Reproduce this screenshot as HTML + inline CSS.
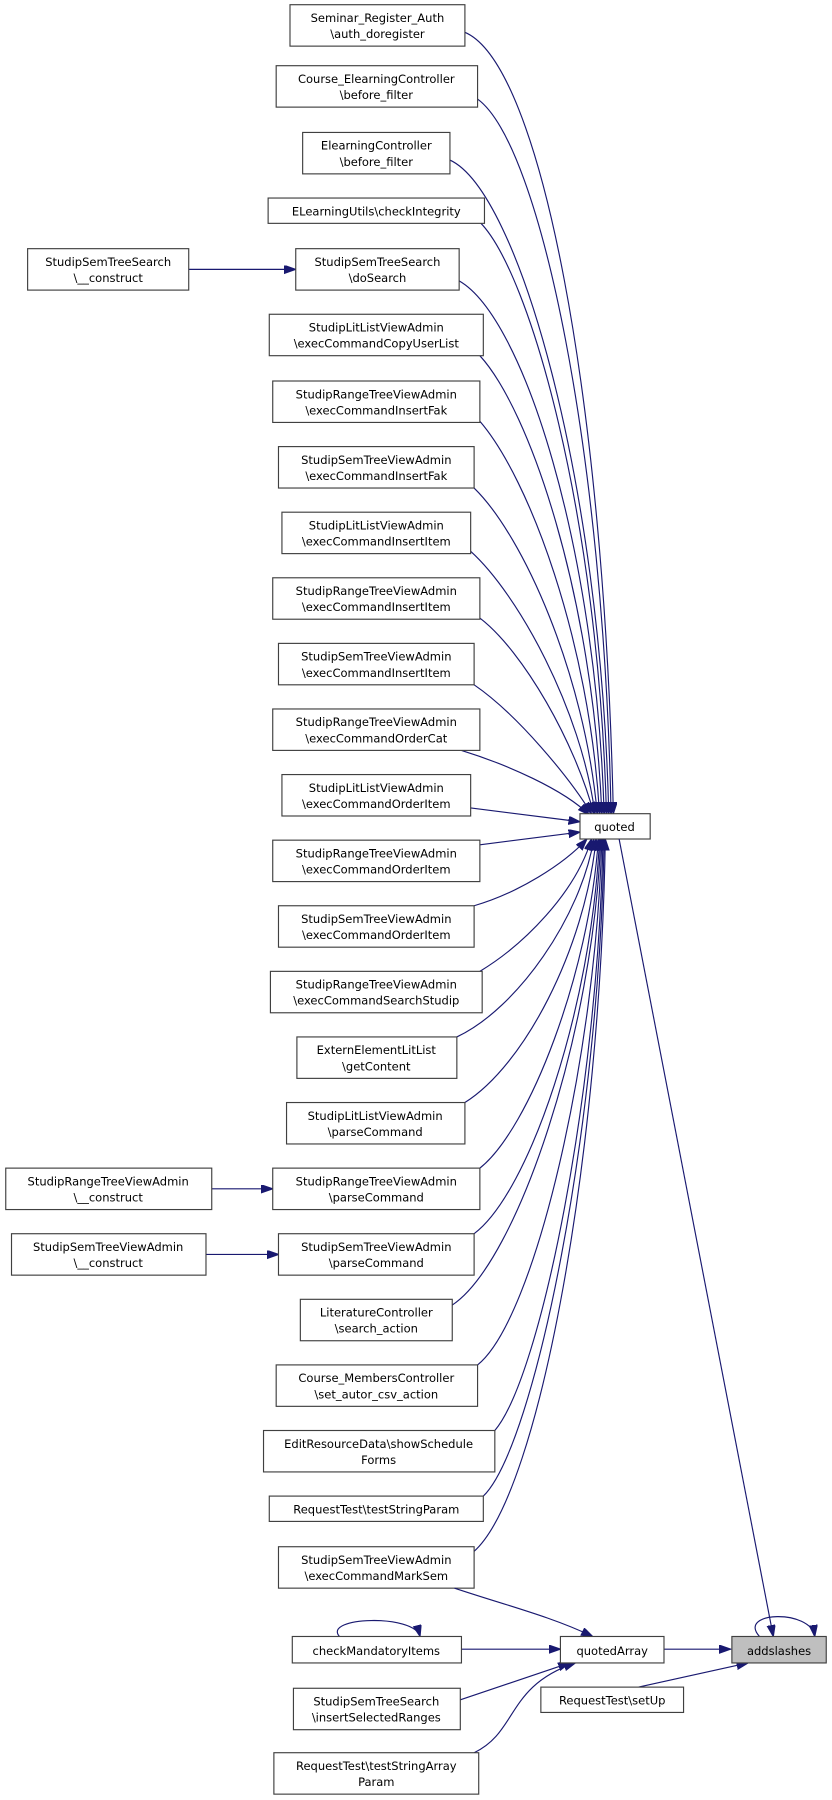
<!DOCTYPE html>
<html><head><meta charset="utf-8"><style>
html,body{margin:0;padding:0;background:#fff;}
svg{display:block;}
text{font-family:"DejaVu Sans","Liberation Sans",sans-serif;font-size:10px;fill:#000;text-anchor:middle;}
rect{fill:#fff;stroke:#404040;stroke-width:1;}
path.e{fill:none;stroke:#191970;stroke-width:1;marker-end:url(#a);}
</style></head><body>
<svg width="832" height="1800" viewBox="0 0 723 1564" xmlns="http://www.w3.org/2000/svg">
<defs><marker id="a" markerUnits="userSpaceOnUse" markerWidth="11" markerHeight="8" refX="10" refY="3.5" orient="auto"><path d="M0,0 L10,3.5 L0,7 z" fill="#191970" stroke="#191970"/></marker></defs>
<g transform="translate(0,-4)">
<!-- edges to quoted -->
<path class="e" d="M404,32 C470,60 525,350 533,711"/>
<path class="e" d="M415,90 C470,130 525,400 531,711"/>
<path class="e" d="M391,143 C450,170 522,420 529,711"/>
<path class="e" d="M417,197 C460,240 520,450 527,711"/>
<path class="e" d="M399,248 C455,280 518,480 525,711"/>
<path class="e" d="M417,313 C460,360 515,520 523,711"/>
<path class="e" d="M417,370 C460,420 512,560 521,711"/>
<path class="e" d="M412,428 C455,470 508,590 519,711"/>
<path class="e" d="M409,483 C450,520 505,620 517,711"/>
<path class="e" d="M417,541 C455,570 500,650 516,711"/>
<path class="e" d="M412,599 C450,625 495,680 514,711"/>
<path class="e" d="M401,656 C440,668 490,690 512,712"/>
<path class="e" d="M409,706 L504,718"/>
<path class="e" d="M417,738 L504,727"/>
<path class="e" d="M412,791 C450,780 490,755 510,733"/>
<path class="e" d="M417,848 C455,825 500,780 514,733"/>
<path class="e" d="M397,905 C450,880 505,800 516,733"/>
<path class="e" d="M404,962 C455,930 508,830 518,733"/>
<path class="e" d="M417,1019 C460,985 512,850 520,733"/>
<path class="e" d="M412,1076 C460,1040 514,880 521,733"/>
<path class="e" d="M393,1138 C450,1100 516,900 522,733"/>
<path class="e" d="M415,1190 C465,1150 518,920 523,733"/>
<path class="e" d="M430,1247 C470,1200 520,950 524,733"/>
<path class="e" d="M420,1304 C465,1260 521,980 525,733"/>
<path class="e" d="M412,1352 C470,1300 522,1000 526,733"/>
<path class="e" d="M164,238 L257,238"/>
<path class="e" d="M184,1037 L237,1037"/>
<path class="e" d="M179,1094 L242,1094"/>

<rect x="252" y="8" width="152" height="36"/><text x="328" y="23">Seminar_Register_Auth</text><text x="328" y="37">\auth_doregister</text>
<rect x="240" y="61" width="175" height="36"/><text x="327" y="76">Course_ElearningController</text><text x="327" y="90">\before_filter</text>
<rect x="263" y="119" width="128" height="36"/><text x="327" y="134">ElearningController</text><text x="327" y="148">\before_filter</text>
<rect x="233" y="176" width="188" height="22"/><text x="327" y="191">ELearningUtils\checkIntegrity</text>
<rect x="257" y="220" width="142" height="36"/><text x="328" y="235">StudipSemTreeSearch</text><text x="328" y="249">\doSearch</text>
<rect x="24" y="220" width="140" height="36"/><text x="94" y="235">StudipSemTreeSearch</text><text x="94" y="249">\__construct</text>
<rect x="234" y="277" width="186" height="36"/><text x="327" y="292">StudipLitListViewAdmin</text><text x="327" y="306">\execCommandCopyUserList</text>
<rect x="237" y="335" width="180" height="36"/><text x="327" y="350">StudipRangeTreeViewAdmin</text><text x="327" y="364">\execCommandInsertFak</text>
<rect x="242" y="392" width="170" height="36"/><text x="327" y="407">StudipSemTreeViewAdmin</text><text x="327" y="421">\execCommandInsertFak</text>
<rect x="245" y="449" width="164" height="36"/><text x="327" y="464">StudipLitListViewAdmin</text><text x="327" y="478">\execCommandInsertItem</text>
<rect x="237" y="506" width="180" height="36"/><text x="327" y="521">StudipRangeTreeViewAdmin</text><text x="327" y="535">\execCommandInsertItem</text>
<rect x="242" y="563" width="170" height="36"/><text x="327" y="578">StudipSemTreeViewAdmin</text><text x="327" y="592">\execCommandInsertItem</text>
<rect x="237" y="620" width="180" height="36"/><text x="327" y="635">StudipRangeTreeViewAdmin</text><text x="327" y="649">\execCommandOrderCat</text>
<rect x="245" y="677" width="164" height="36"/><text x="327" y="692">StudipLitListViewAdmin</text><text x="327" y="706">\execCommandOrderItem</text>
<rect x="237" y="734" width="180" height="36"/><text x="327" y="749">StudipRangeTreeViewAdmin</text><text x="327" y="763">\execCommandOrderItem</text>
<rect x="242" y="791" width="170" height="36"/><text x="327" y="806">StudipSemTreeViewAdmin</text><text x="327" y="820">\execCommandOrderItem</text>
<rect x="235" y="848" width="184" height="36"/><text x="327" y="863">StudipRangeTreeViewAdmin</text><text x="327" y="877">\execCommandSearchStudip</text>
<rect x="258" y="905" width="139" height="36"/><text x="327" y="920">ExternElementLitList</text><text x="327" y="934">\getContent</text>
<rect x="249" y="962" width="155" height="36"/><text x="326" y="977">StudipLitListViewAdmin</text><text x="326" y="991">\parseCommand</text>
<rect x="237" y="1019" width="180" height="36"/><text x="327" y="1034">StudipRangeTreeViewAdmin</text><text x="327" y="1048">\parseCommand</text>
<rect x="5" y="1019" width="179" height="36"/><text x="94" y="1034">StudipRangeTreeViewAdmin</text><text x="94" y="1048">\__construct</text>
<rect x="242" y="1076" width="170" height="36"/><text x="327" y="1091">StudipSemTreeViewAdmin</text><text x="327" y="1105">\parseCommand</text>
<rect x="10" y="1076" width="169" height="36"/><text x="94" y="1091">StudipSemTreeViewAdmin</text><text x="94" y="1105">\__construct</text>
<rect x="261" y="1133" width="132" height="36"/><text x="327" y="1148">LiteratureController</text><text x="327" y="1162">\search_action</text>
<rect x="240" y="1190" width="175" height="36"/><text x="327" y="1205">Course_MembersController</text><text x="327" y="1219">\set_autor_csv_action</text>
<rect x="229" y="1247" width="201" height="36"/><text x="329" y="1262">EditResourceData\showSchedule</text><text x="329" y="1276">Forms</text>
<rect x="234" y="1304" width="186" height="22"/><text x="327" y="1319">RequestTest\testStringParam</text>
<rect x="242" y="1348" width="170" height="36"/><text x="327" y="1363">StudipSemTreeViewAdmin</text><text x="327" y="1377">\execCommandMarkSem</text>
<rect x="504" y="711" width="61" height="22"/><text x="534" y="726">quoted</text>
</g>

<!-- bottom edges -->
<path class="e" d="M538,729 L672,1422"/>
<path class="e" d="M395,1380 C440,1395 480,1405 515,1422"/>
<path class="e" d="M401,1433 L487,1433"/>
<path class="e" d="M400,1477 L495,1445"/>
<path class="e" d="M412,1523 C450,1505 440,1465 500,1445"/>
<path class="e" d="M577,1433 L635,1433"/>
<path class="e" d="M555,1466 L650,1445"/>
<path class="e" d="M295,1422 C280,1405 360,1402 365,1422"/>
<path class="e" d="M660,1422 C640,1400 705,1398 708,1422"/>

<rect x="254" y="1422" width="147" height="23"/><text x="327" y="1438">checkMandatoryItems</text>
<rect x="255" y="1467" width="145" height="36"/><text x="327" y="1482">StudipSemTreeSearch</text><text x="327" y="1496">\insertSelectedRanges</text>
<rect x="238" y="1523" width="178" height="36"/><text x="327" y="1538">RequestTest\testStringArray</text><text x="327" y="1552">Param</text>
<rect x="487" y="1422" width="90" height="23"/><text x="532" y="1438">quotedArray</text>
<rect x="636" y="1422" width="82" height="23" style="fill:#bfbfbf"/><text x="677" y="1438">addslashes</text>
<rect x="470" y="1466" width="124" height="22"/><text x="532" y="1481">RequestTest\setUp</text>
</svg>
</body></html>
